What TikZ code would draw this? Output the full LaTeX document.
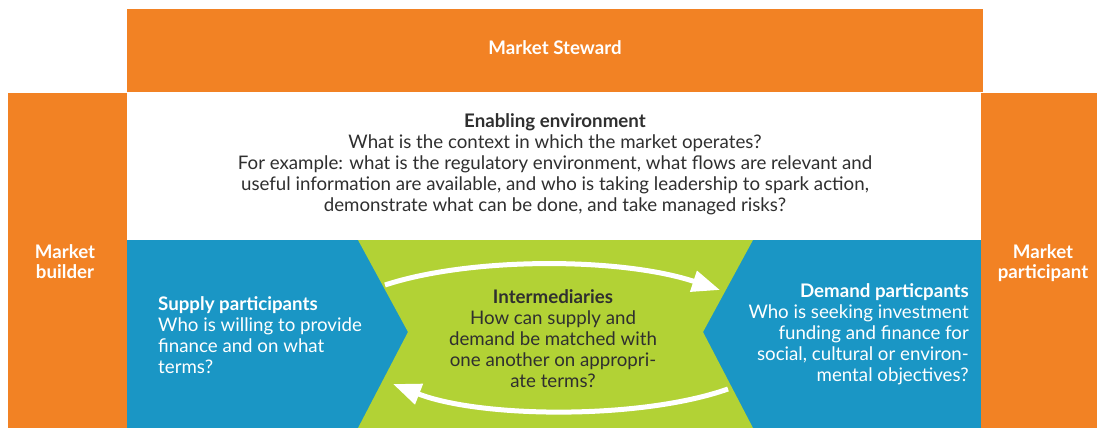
\documentclass[tikz,border=0pt]{standalone}
\usepackage{fontspec}
\setmainfont{Lato}
\usetikzlibrary{arrows.meta}
\definecolor{morange}{HTML}{F28224}
\definecolor{mblue}{HTML}{1A96C5}
\definecolor{mgreen}{HTML}{B2D235}
\definecolor{mtext}{HTML}{2F2F2F}
\begin{document}
\begin{tikzpicture}[x=1pt,y=-1pt,
  txt/.style={inner sep=0pt, font=\fontsize{18.7}{21}\selectfont},
  wtxt/.style={txt, text=white},
  dtxt/.style={txt, text=mtext},
  btxt/.style={wtxt, align=center, font=\fontsize{18.7}{20.5}\selectfont\bfseries},
  flow/.style={draw=white, line width=5pt, -{Triangle[length=28pt,width=21pt]}}]
\useasboundingbox (0,0) rectangle (1097,428);
\fill[white] (0,0) rectangle (1097,428);
% bands
\fill[morange] (127,9) rectangle (983,92);
\fill[morange] (8,93) rectangle (127,428);
\fill[morange] (981,93) rectangle (1097,428);
\fill[mblue] (127,240) rectangle (981,428);
\fill[mgreen] (358,240) -- (753,240) -- (703,332) -- (753,428) -- (358,428) -- (408,332) -- cycle;
% texts
\node[btxt] (steward) at (555,48) {Market Steward};
\node[dtxt, anchor=north, align=center] (env) at (555,113) {\textbf{Enabling environment}\\
What is the context in which the market operates?\\
For example: what is the regulatory environment, what flows are relevant and\\
useful information are available, and who is taking leadership to spark action,\\
demonstrate what can be done, and take managed risks?};
\node[btxt, anchor=north] (builder) at (65,244) {Market\\builder};
\node[btxt, anchor=north] (participant) at (1043,244) {Market\\participant};
\node[wtxt, anchor=north west, align=left] (supply) at (158,296) {\textbf{Supply participants}\\
Who is willing to provide\\
finance and on what\\
terms?};
\node[dtxt, anchor=north, align=center] (inter) at (553,289) {\textbf{Intermediaries}\\
How can supply and\\
demand be matched with\\
one another on appropri-\\
ate terms?};
\node[wtxt, anchor=north east, align=right] (demand) at (969,283) {\textbf{Demand particpants}\\
Who is seeking investment\\
funding and finance for\\
social, cultural or environ-\\
mental objectives?};
% flows
\coordinate (f1s) at (385,285);
\coordinate (f1e) at (720,290);
\coordinate (f2s) at (728,389);
\coordinate (f2e) at (393,384);
\draw[flow] (f1s) .. controls (470,257) and (620,257) .. (f1e);
\draw[flow] (f2s) .. controls (640,420) and (480,418) .. (f2e);
\end{tikzpicture}
\end{document}
